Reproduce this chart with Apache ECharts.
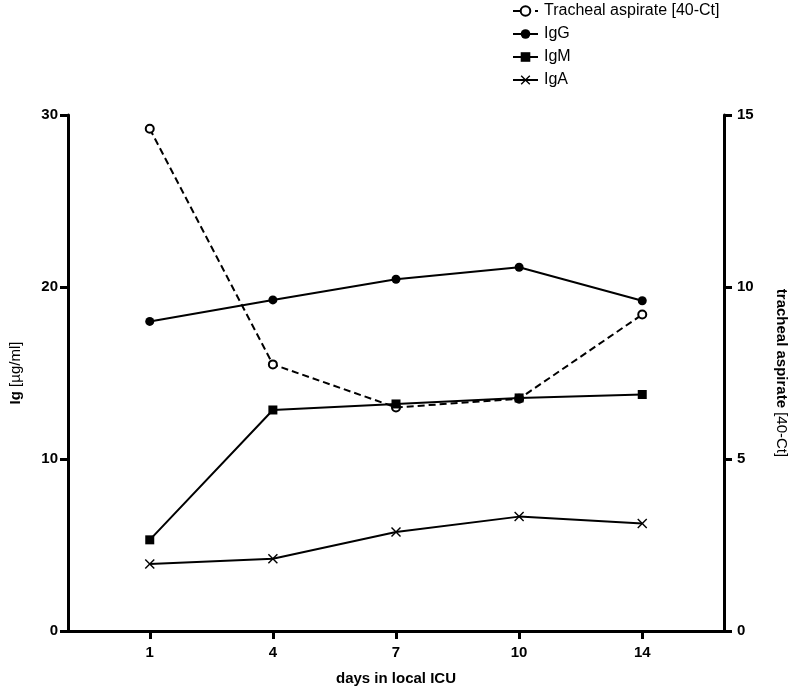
<!DOCTYPE html>
<html>
<head>
<meta charset="utf-8">
<script src="https://cdn.jsdelivr.net/npm/echarts@6/dist/echarts.min.js"></script>
<style>
  html, body { margin: 0; padding: 0; background: #fff; }
  #chart { width: 797px; height: 691px; }
</style>
</head>
<body>
<div id="chart"></div>
<script>
// days are evenly spaced on the axis, so use positions 0..4
const days = ['1', '4', '7', '10', '14'];
const tracheal = [14.6, 7.75, 6.5, 6.75, 9.2];   // right axis, 40-Ct
const igG = [18.0, 19.25, 20.45, 21.15, 19.2];
const igM = [5.3, 12.85, 13.2, 13.55, 13.75];
const igA = [3.9, 4.2, 5.75, 6.65, 6.25];

const toPts = arr => arr.map((v, i) => [i, v]);
const xShape = 'path://M0,1 L1,0 L5,4 L9,0 L10,1 L6,5 L10,9 L9,10 L5,6 L1,10 L0,9 L4,5 Z';
const font = 'Liberation Sans, Arial, sans-serif';

const chart = echarts.init(document.getElementById('chart'));

const lineAxis = { show: true, onZero: false, lineStyle: { color: '#000', width: 3 } };
const tickAxis = { show: true, length: 8, lineStyle: { color: '#000', width: 3 } };
const labelAxis = { color: '#000', fontWeight: 'bold', fontSize: 15, fontFamily: font };
const richName = {
  b: { fontWeight: 'bold', fontSize: 15, color: '#000', fontFamily: font },
  n: { fontWeight: 'normal', fontSize: 15, color: '#000', fontFamily: font }
};

const option = {
  animation: false,
  textStyle: { fontFamily: font },
  grid: { left: 57, right: 61, top: 115, bottom: 54, containLabel: false },
  legend: {
    orient: 'vertical',
    left: 507,
    top: -2,
    itemWidth: 25,
    itemHeight: 12,
    itemGap: 7,
    textStyle: { color: '#000', fontSize: 16, fontFamily: font, padding: [0, 0, 0, 1] },
    data: ['Tracheal aspirate [40-Ct]', 'IgG', 'IgM', 'IgA']
  },
  xAxis: {
    type: 'value',
    min: -0.664,
    max: 4.664,
    name: 'days in local ICU',
    nameLocation: 'middle',
    nameGap: 40,
    nameTextStyle: { color: '#000', fontWeight: 'bold', fontSize: 15, fontFamily: font },
    axisLine: lineAxis,
    axisTick: Object.assign({}, tickAxis, { customValues: [0, 1, 2, 3, 4] }),
    axisLabel: Object.assign({}, labelAxis, {
      margin: 14,
      customValues: [0, 1, 2, 3, 4],
      formatter: v => days[Math.round(v)]
    }),
    splitLine: { show: false }
  },
  yAxis: [
    {
      type: 'value',
      position: 'left',
      min: 0, max: 30, interval: 10,
      name: '{b|Ig} {n|[µg/ml]}',
      nameLocation: 'middle',
      nameRotate: 90,
      nameGap: 45,
      nameTextStyle: { color: '#000', fontSize: 15, fontFamily: font, rich: richName },
      axisLine: lineAxis,
      axisTick: tickAxis,
      axisLabel: Object.assign({}, labelAxis, { margin: 10 }),
      splitLine: { show: false }
    },
    {
      type: 'value',
      position: 'right',
      min: 0, max: 15, interval: 5,
      name: '{b|tracheal aspirate} {n|[40-Ct]}',
      nameLocation: 'middle',
      nameRotate: -90,
      nameGap: 50,
      nameTextStyle: { color: '#000', fontSize: 15, fontFamily: font, rich: richName },
      axisLine: lineAxis,
      axisTick: tickAxis,
      axisLabel: Object.assign({}, labelAxis, { margin: 13 }),
      splitLine: { show: false }
    }
  ],
  series: [
    {
      name: 'Tracheal aspirate [40-Ct]',
      type: 'line',
      yAxisIndex: 1,
      data: toPts(tracheal),
      symbol: 'emptyCircle',
      symbolSize: 8,
      lineStyle: { color: '#000', width: 2, type: [7, 4] },
      itemStyle: { color: '#000', borderColor: '#000', borderWidth: 2 },
      z: 3
    },
    {
      name: 'IgG',
      type: 'line',
      data: toPts(igG),
      symbol: 'circle',
      symbolSize: 9,
      lineStyle: { color: '#000', width: 2 },
      itemStyle: { color: '#000', borderWidth: 0 }
    },
    {
      name: 'IgM',
      type: 'line',
      data: toPts(igM),
      symbol: 'rect',
      symbolSize: 9,
      lineStyle: { color: '#000', width: 2 },
      itemStyle: { color: '#000', borderWidth: 0 }
    },
    {
      name: 'IgA',
      type: 'line',
      data: toPts(igA),
      symbol: xShape,
      symbolSize: 10,
      lineStyle: { color: '#000', width: 2 },
      itemStyle: { color: '#000', borderWidth: 0 }
    }
  ]
};

chart.setOption(option);
</script>
</body>
</html>
